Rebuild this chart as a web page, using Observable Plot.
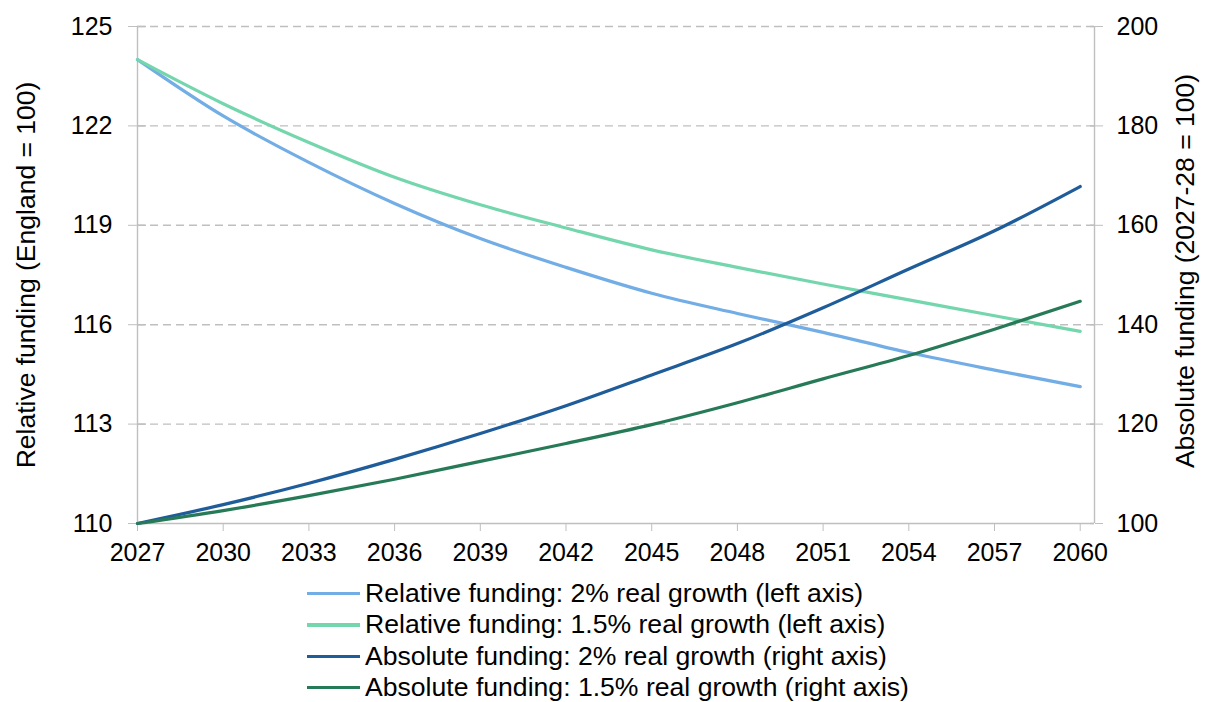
<!DOCTYPE html>
<html><head><meta charset="utf-8">
<script src="https://cdn.jsdelivr.net/npm/d3@7"></script>
<script src="https://cdn.jsdelivr.net/npm/@observablehq/plot@0.6"></script>
<style>
body{margin:0;background:#fff;font-family:"Liberation Sans",Arial,sans-serif;}
#chart{position:relative;width:1209px;height:702px;overflow:hidden;}
#legend{position:absolute;left:307px;top:578px;font-size:26.6px;color:#000;}
.row{height:31.3px;line-height:31.3px;display:flex;align-items:center;white-space:nowrap;}
.sw{width:53px;height:3.4px;margin-right:5px;flex:none;}
</style></head><body><div id="chart"></div>
<script>
const years = [2027,2030,2033,2036,2039,2042,2045,2048,2051,2054,2057,2060];
const relative2 = [124.0,122.3,120.9,119.66,118.6,117.73,116.95,116.34,115.77,115.16,114.63,114.13];
const relative15 = [124.0,122.67,121.5,120.45,119.62,118.92,118.26,117.73,117.23,116.75,116.27,115.8];
const absolute2 = [100,103.8,108.1,112.9,118.1,123.7,129.9,136.2,143.4,151.2,158.9,167.8];
const absolute15 = [100,102.6,105.6,108.9,112.5,116.1,119.9,124.3,129.1,133.8,139.1,144.7];
const leftTicks = [110,113,116,119,122,125];
const rightTicks = [100,120,140,160,180,200];
const xTicks = [2027,2030,2033,2036,2039,2042,2045,2048,2051,2054,2057,2060];
const xDomain = [2027,2060.5];
const seriesNames = [
  "Relative funding: 2% real growth (left axis)",
  "Relative funding: 1.5% real growth (left axis)",
  "Absolute funding: 2% real growth (right axis)",
  "Absolute funding: 1.5% real growth (right axis)"
];
const seriesColors = ["#72ADE6","#74D6AC","#1F5C9A","#277A57"];
const leftTitle = "Relative funding (England = 100)";
const rightTitle = "Absolute funding (2027-28 = 100)";

// right axis (100..200) mapped onto left scale (110..125)
const toLeft = v => 110 + (v - 100) * 15 / 100;
const fromLeft = v => 100 + (v - 110) * 100 / 15;

const seriesValues = [relative2, relative15, absolute2.map(toLeft), absolute15.map(toLeft)];
const rows = [];
seriesValues.forEach((vals, i) => vals.forEach((v, j) => rows.push({year: years[j], value: v, series: seriesNames[i]})));

const grid = "#BFBFBF";
const W = 1209, H = 578;
const plot = Plot.plot({
  width: W, height: H,
  marginLeft: 137, marginRight: 115, marginTop: 26, marginBottom: H - 523,
  style: {fontFamily: '"Liberation Sans", Arial, sans-serif', fontSize: "25px", color: "#000", background: "#fff"},
  x: {domain: xDomain},
  y: {domain: [110, 125]},
  color: {domain: seriesNames, range: seriesColors},
  marks: [
    Plot.ruleY(leftTicks.filter(d => d > 110), {stroke: grid, strokeWidth: 1.4, strokeDasharray: "8,5"}),
    Plot.ruleY([110], {stroke: grid, strokeWidth: 1.4}),
    Plot.ruleX([xDomain[0]], {stroke: grid, strokeWidth: 1.4}),
    Plot.ruleX([xDomain[1]], {stroke: grid, strokeWidth: 1.4}),
    Plot.axisY({anchor: "left", ticks: leftTicks, tickSize: 9, tickPadding: 16, stroke: grid, label: null, tickFormat: d => String(d)}),
    Plot.tickY(leftTicks, {y: d => d, insetRight: W - 137 - 115 - 9, stroke: grid, strokeWidth: 1.4}),
    Plot.axisY({anchor: "right", ticks: rightTicks.map(toLeft), tickSize: 8, tickPadding: 14, stroke: grid, label: null, tickFormat: d => String(Math.round(fromLeft(d)))}),
    Plot.tickY(rightTicks.map(toLeft), {y: d => d, insetLeft: W - 137 - 115 - 4, stroke: grid, strokeWidth: 1.4}),
    Plot.axisX({ticks: xTicks, tickSize: 8, tickPadding: 12, stroke: grid, label: null, tickFormat: d => String(d)}),
    Plot.text([leftTitle], {frameAnchor: "left", textAnchor: "middle", lineAnchor: "middle", rotate: -90, dx: -111, text: d => d, fontSize: 26.5, fill: "#000"}),
    Plot.text([rightTitle], {frameAnchor: "right", textAnchor: "middle", lineAnchor: "middle", rotate: -90, dx: 91, dy: -4, text: d => d, fontSize: 26.5, fill: "#000"}),
    Plot.line(rows, {x: "year", y: "value", z: "series", stroke: "series", strokeWidth: 3.2, curve: "monotone-x"})
  ]
});
const chart = document.getElementById("chart");
chart.appendChild(plot);
const legend = document.createElement("div");
legend.id = "legend";
seriesNames.forEach((n, i) => {
  const r = document.createElement("div"); r.className = "row";
  const s = document.createElement("span"); s.className = "sw"; s.style.background = seriesColors[i];
  const t = document.createElement("span"); t.textContent = n;
  r.appendChild(s); r.appendChild(t); legend.appendChild(r);
});
chart.appendChild(legend);
</script></body></html>
